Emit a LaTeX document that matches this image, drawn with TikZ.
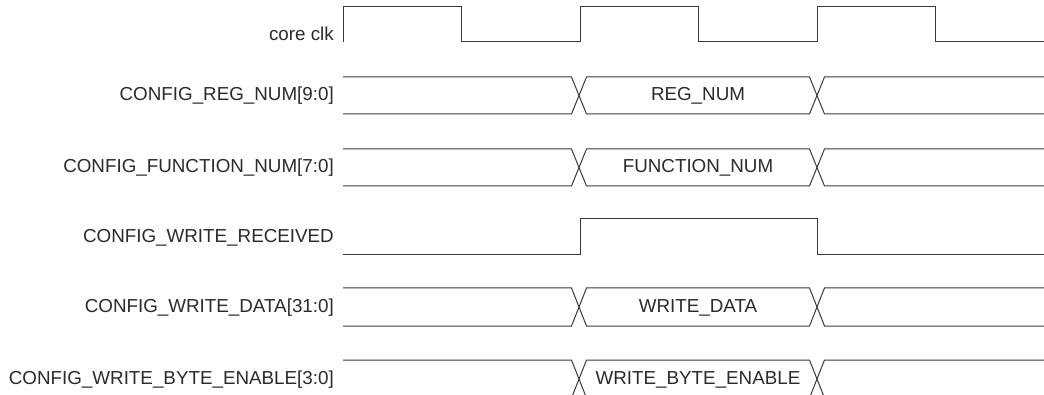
\documentclass[tikz,border=0pt]{standalone}
\usepackage{fontspec}
\setmainfont{Liberation Sans}
\definecolor{wire}{HTML}{3A3A3A}
\definecolor{txt}{HTML}{2A2A2A}
\newcommand\mybus[2]{% top, bottom
  \draw[sig] (343,#1) -- (571.5,#1) -- (586.5,#2) -- (809.5,#2) -- (824.5,#1) -- (1044,#1);
  \draw[sig] (343,#2) -- (571.5,#2) -- (586.5,#1) -- (809.5,#1) -- (824.5,#2) -- (1044,#2);
}
\begin{document}
\begin{tikzpicture}[x=1pt,y=-1pt,
  sig/.style={draw=wire,line width=1pt,line join=miter},
  lbl/.style={anchor=east,text=txt,font=\fontsize{18.8}{22}\selectfont,inner sep=0pt},
  val/.style={text=txt,font=\fontsize{18.8}{22}\selectfont,inner sep=0pt}]
\useasboundingbox (0,0) rectangle (1044,395);
% clock
\node[lbl] (lclk) at (334,34) {core clk};
\draw[sig] (343,42) -- (343,7) -- (461,7) -- (461,42) -- (580,42) -- (580,7) -- (698,7) -- (698,42) -- (817,42) -- (817,7) -- (935,7) -- (935,42) -- (1044,42);
% buses
\node[lbl] (l1) at (334,96) {CONFIG\_REG\_NUM[9:0]};
\mybus{77}{114}
\node[val] (v1) at (698,96) {REG\_NUM};
\node[lbl] (l2) at (334,168) {CONFIG\_FUNCTION\_NUM[7:0]};
\mybus{149}{186}
\node[val] (v2) at (698,168) {FUNCTION\_NUM};
% write received
\node[lbl] (l3) at (334,238) {CONFIG\_WRITE\_RECEIVED};
\draw[sig] (343,255) -- (580,255) -- (580,219) -- (817,219) -- (817,255) -- (1044,255);
\node[lbl] (l4) at (334,308) {CONFIG\_WRITE\_DATA[31:0]};
\mybus{288}{326}
\node[val] (v4) at (698,308) {WRITE\_DATA};
\node[lbl] (l5) at (334,380) {CONFIG\_WRITE\_BYTE\_ENABLE[3:0]};
\mybus{360}{398}
\node[val] (v5) at (698,380) {WRITE\_BYTE\_ENABLE};
\end{tikzpicture}
\end{document}
